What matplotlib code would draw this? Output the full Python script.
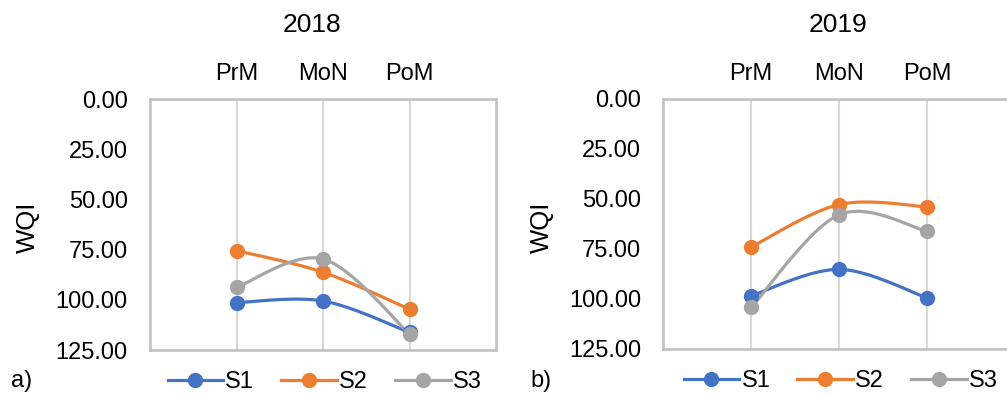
import numpy as np
import matplotlib
matplotlib.use("Agg")
import matplotlib.pyplot as plt

plt.rcParams['font.family'] = ['Liberation Sans', 'DejaVu Sans']

seasons = ["PrM", "MoN", "PoM"]
series_names = ["S1", "S2", "S3"]
colors = ["#4472C4", "#ED7D31", "#A5A5A5"]

wqi_2018_s1 = [101.4, 100.6, 116.2]
wqi_2018_s2 = [75.5, 86.3, 104.7]
wqi_2018_s3 = [93.8, 79.7, 117.0]

wqi_2019_s1 = [98.4, 85.2, 99.4]
wqi_2019_s2 = [74.0, 52.8, 53.9]
wqi_2019_s3 = [104.2, 57.9, 66.1]

yticks = [0, 25, 50, 75, 100, 125]


def smooth(x, y, n=40):
    # Excel-like smoothed line: cubic Bezier with Catmull-Rom control points
    x = np.asarray(x, float)
    y = np.asarray(y, float)
    pts = np.column_stack([x, y])
    out = [pts[0]]
    t = np.linspace(0, 1, n)[1:]
    for i in range(len(pts) - 1):
        p0 = pts[max(i - 1, 0)]
        p1 = pts[i]
        p2 = pts[i + 1]
        p3 = pts[min(i + 2, len(pts) - 1)]
        c1 = p1 + (p2 - p0) / 6
        c2 = p2 - (p3 - p1) / 6
        seg = ((1 - t) ** 3)[:, None] * p1 + (3 * (1 - t) ** 2 * t)[:, None] * c1 \
            + (3 * (1 - t) * t ** 2)[:, None] * c2 + (t ** 3)[:, None] * p2
        out.extend(seg)
    out = np.array(out)
    return out[:, 0], out[:, 1]


fig = plt.figure(figsize=(10.07, 3.95), dpi=100)
ax1 = fig.add_axes([0.149, 0.1139, 0.3436, 0.6354])
ax2 = fig.add_axes([0.6587, 0.1165, 0.349, 0.633])

panels = [
    (ax1, "2018", [wqi_2018_s1, wqi_2018_s2, wqi_2018_s3], "a)", 0.310, 0.028, 0.011),
    (ax2, "2019", [wqi_2019_s1, wqi_2019_s2, wqi_2019_s3], "b)", 0.832, 0.538, 0.527),
]

for ax, year, data, tag, tx, lx, ax_tag in panels:
    xs = np.arange(len(seasons))
    for vals, name, c in zip(data, series_names, colors):
        sx, sy = smooth(xs, vals)
        ax.plot(sx, sy, color=c, lw=2.3, zorder=3, solid_capstyle='round')
        ax.plot(xs, vals, 'o', color=c, ms=10, zorder=4)
        ax.plot([], [], '-o', color=c, lw=2.3, ms=10, label=name)
    ax.set_xlim(-1, 3)
    ax.set_ylim(125, 0)
    ax.set_yticks(yticks)
    ax.set_yticklabels([f"{v:.2f}" for v in yticks])
    ax.set_xticks(xs)
    ax.set_xticklabels(seasons)
    ax.xaxis.tick_top()
    ax.tick_params(length=0, labelsize=17, colors='black')
    ax.tick_params(axis='y', pad=16)
    ax.tick_params(axis='x', pad=10)
    ax.grid(axis='x', color='#d9d9d9', lw=1.5)
    ax.set_axisbelow(True)
    for sp in ax.spines.values():
        sp.set_color('#bfbfbf')
        sp.set_linewidth(1.8)
    fig.text(tx, 0.937, year, ha='center', va='center', fontsize=19)
    fig.text(lx, 0.425, "WQI", ha='center', va='center', rotation=90, fontsize=18.5)
    fig.text(ax_tag, 0.035, tag, ha='left', va='center', fontsize=17)
    ax.legend(loc='center', bbox_to_anchor=(0.505, -0.128), ncol=3, frameon=False,
              fontsize=17, handlelength=2.35, handletextpad=0.1, columnspacing=1.15,
              borderaxespad=0)

fig.savefig("out.png", dpi=100)
